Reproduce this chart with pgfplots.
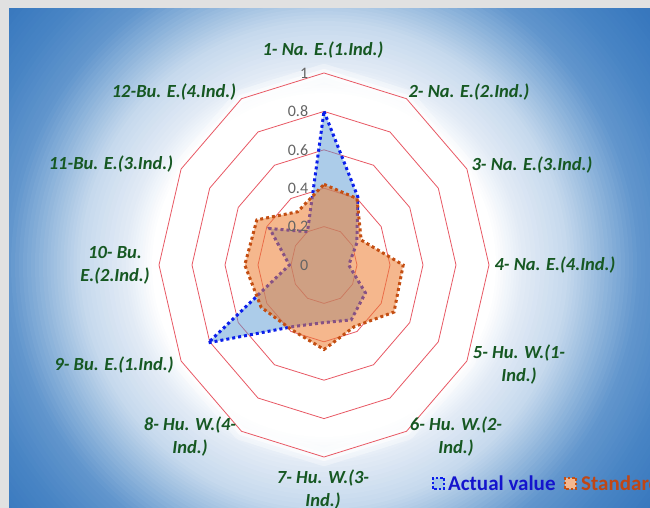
\documentclass[border=0pt]{standalone}
\usepackage{pgfplots}
\pgfplotsset{compat=1.18}
\usepackage{fontspec}
\setmainfont{Carlito}
\definecolor{lblgreen}{RGB}{22,88,34}
\definecolor{ringred}{RGB}{232,88,100}
\definecolor{actline}{RGB}{10,30,235}
\definecolor{actfill}{RGB}{91,155,213}
\definecolor{stdline}{RGB}{196,78,18}
\definecolor{stdfill}{RGB}{237,125,49}
\definecolor{tickgray}{RGB}{100,100,100}
\definecolor{legblue}{RGB}{20,20,205}
\definecolor{legorange}{RGB}{192,70,20}
\definecolor{framegray}{RGB}{225,225,225}
\definecolor{bgW}{rgb}{1,1,1}
\definecolor{bgA}{rgb}{0.894,0.925,0.965}
\definecolor{bgB}{rgb}{0.776,0.851,0.929}
\definecolor{bgC}{rgb}{0.596,0.733,0.871}
\definecolor{bgD}{rgb}{0.384,0.588,0.804}
\definecolor{bgE}{rgb}{0.282,0.518,0.769}
\definecolor{bgF}{rgb}{0.220,0.471,0.745}
\definecolor{bgG}{rgb}{0.196,0.439,0.725}
\tikzset{cat/.style={text=lblgreen, font=\fontsize{18.5}{23}\selectfont\bfseries\itshape, align=center},
  tl/.style={anchor=east, text=tickgray, font=\fontsize{16}{16}\selectfont, inner sep=0pt}}
\begin{document}
\begin{tikzpicture}
\useasboundingbox (0,0) rectangle (650pt,508pt);
\clip (0,0) rectangle (650pt,508pt);
\fill[framegray] (0,0) rectangle (650pt,508pt);
\begin{scope}
\clip (9pt,-5pt) rectangle (660pt,499pt);
\fill[bgG] (9pt,-5pt) rectangle (660pt,499pt);
\foreach \ro/\ri/\co/\ci in {450/409/bgG/bgF, 409/363/bgF/bgE, 363/317/bgE/bgD, 317/277/bgD/bgC, 277/244/bgC/bgB, 244/198/bgB/bgA, 198/172/bgA/bgW}{
  \foreach \k in {0,...,9}{
    \pgfmathsetmacro\rr{\ro-(\ro-\ri)*\k/10}
    \pgfmathtruncatemacro\pp{100-10*\k}
    \fill[\co!\pp!\ci] (324pt,243pt) circle[radius=\rr pt];
  }
}
\fill[white] (324pt,243pt) circle[radius=172pt];
\end{scope}
\begin{axis}[at={(0pt,0pt)}, anchor=south west, x=165pt, y=192pt,
  xmin=-1.9636, xmax=1.9758, ymin=-1.2656, ymax=1.3802,
  hide axis, clip=false]
% glow and rings
\addplot[data cs=polar, draw=white, line width=18pt, opacity=0.35, line join=round] coordinates {(0,1)(30,1)(60,1)(90,1)(120,1)(150,1)(180,1)(210,1)(240,1)(270,1)(300,1)(330,1)(360,1)(30,1)};
\addplot[data cs=polar, draw=white, line width=8pt, opacity=0.6, line join=round, fill=white, fill opacity=0.5] coordinates {(0,1)(30,1)(60,1)(90,1)(120,1)(150,1)(180,1)(210,1)(240,1)(270,1)(300,1)(330,1)(360,1)(30,1)};
\pgfplotsinvokeforeach{0.2,0.4,0.6,0.8,1}{
\addplot[data cs=polar, draw=ringred, line width=0.8pt, line join=miter] coordinates {(0,#1)(30,#1)(60,#1)(90,#1)(120,#1)(150,#1)(180,#1)(210,#1)(240,#1)(270,#1)(300,#1)(330,#1)(360,#1)(30,#1)};
}
% Actual value
\addplot[data cs=polar, draw=actline, line width=3pt, dash pattern=on 3pt off 3pt, fill=actfill, fill opacity=0.5] coordinates {(90,0.80) (60,0.41) (30,0.23) (0,0.15) (-30,0.29) (-60,0.33) (-90,0.30) (-120,0.37) (-150,0.81) (-180,0.21) (-210,0.38) (-240,0.20) (-270,0.80)};
% Standard
\addplot[data cs=polar, draw=stdline, line width=3pt, dash pattern=on 3pt off 3pt, fill=stdfill, fill opacity=0.55] coordinates {(90,0.42) (60,0.40) (30,0.26) (0,0.48) (-30,0.49) (-60,0.37) (-90,0.44) (-120,0.39) (-150,0.44) (-180,0.48) (-210,0.47) (-240,0.32) (-270,0.42)};
% radial tick labels
\node[tl] at (axis cs:-0.095,0) {0};
\node[tl] at (axis cs:-0.095,0.2) {0.2};
\node[tl] at (axis cs:-0.095,0.4) {0.4};
\node[tl] at (axis cs:-0.095,0.6) {0.6};
\node[tl] at (axis cs:-0.095,0.8) {0.8};
\node[tl] at (axis cs:-0.095,1) {1};
\end{axis}
% category labels
\node[cat] at (323pt,458pt) {1- Na. E.(1.Ind.)};
\node[cat] at (469pt,416pt) {2- Na. E.(2.Ind.)};
\node[cat] at (532pt,343pt) {3- Na. E.(3.Ind.)};
\node[cat] at (555pt,243pt) {4- Na. E.(4.Ind.)};
\node[cat] at (519pt,143pt) {5- Hu. W.(1-\\Ind.)};
\node[cat] at (456pt,71pt) {6- Hu. W.(2-\\Ind.)};
\node[cat] at (323pt,18pt) {7- Hu. W.(3-\\Ind.)};
\node[cat] at (190pt,71pt) {8- Hu. W.(4-\\Ind.)};
\node[cat] at (114pt,143pt) {9- Bu. E.(1.Ind.)};
\node[cat] at (115pt,243pt) {10- Bu.\\E.(2.Ind.)};
\node[cat] at (111pt,344pt) {11-Bu. E.(3.Ind.)};
\node[cat] at (174pt,416pt) {12-Bu. E.(4.Ind.)};
% legend
\draw[actline, line width=2.5pt, dash pattern=on 2.5pt off 2pt, fill=actfill!55] (433pt,19pt) rectangle (444pt,30pt);
\node[anchor=base west, text=legblue, font=\fontsize{21}{21}\selectfont\bfseries, inner sep=0pt] at (448pt,17.5pt) {Actual value};
\draw[stdline, line width=2.5pt, dash pattern=on 2.5pt off 2pt, fill=stdfill!55] (565pt,19pt) rectangle (576pt,30pt);
\node[anchor=base west, text=legorange, font=\fontsize{21}{21}\selectfont\bfseries, inner sep=0pt] at (581pt,17.5pt) {Standard};
\end{tikzpicture}
\end{document}
